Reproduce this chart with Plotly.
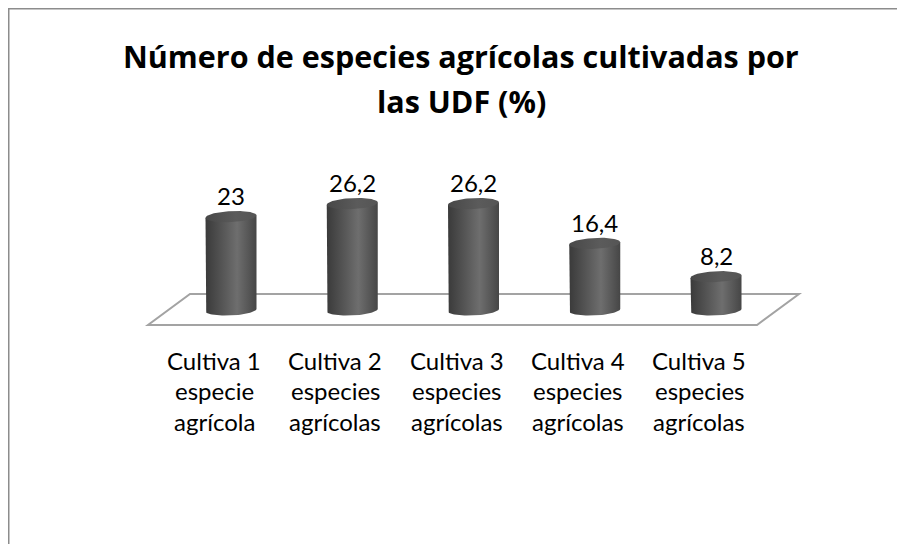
import numpy as np
import plotly.graph_objects as go

# ---- data ----
categories = [
    "Cultiva 1<br>especie<br>agrícola",
    "Cultiva 2<br>especies<br>agrícolas",
    "Cultiva 3<br>especies<br>agrícolas",
    "Cultiva 4<br>especies<br>agrícolas",
    "Cultiva 5<br>especies<br>agrícolas",
]
values = [23, 26.2, 26.2, 16.4, 8.2]
title_lines = ["Número de especies agrícolas cultivadas por", "las UDF (%)"]

# ---- geometry (pixel <-> data helpers) ----
OFF = 8                      # page body margin of the html page
W, H = 905 - OFF, 544 - OFF  # figure size
X0PX, XSTEP = 231.0 - OFF, 121.25       # pixel of category 0, pixels per category
Y0PX, YSTEP = 310.0 - OFF, 4.06         # pixel of value 0, pixels per unit


def px2x(px):
    return (px - OFF - X0PX) / XSTEP


def py2y(py):
    return (Y0PX - (py - OFF)) / YSTEP


FONT = "Lato, 'Open Sans', sans-serif"
TFONT = "'Open Sans', Lato, sans-serif"
half_w = 25.5 / XSTEP
ell_b = 5.5 / YSTEP
tilt = 1.2 / YSTEP

body_scale = [[0, "#3a3a3a"], [0.35, "#575757"], [0.62, "#6e6e6e"], [1, "#464646"]]
top_scale = [[0, "#484848"], [0.6, "#5b5b5b"], [1, "#555555"]]

fig = go.Figure()

for i, v in enumerate(values):
    c = i
    t_low = np.linspace(np.pi, 2 * np.pi, 40)
    bx = [c - half_w] + list(c + half_w * np.cos(t_low)) + [c + half_w, c - half_w]
    by = [v - tilt] + list(ell_b * np.sin(t_low) + tilt * np.cos(t_low)) + [v + tilt, v - tilt]
    fig.add_trace(go.Scatter(
        x=bx, y=by, mode="lines", fill="toself", line=dict(width=0),
        fillgradient=dict(type="horizontal", colorscale=body_scale),
        hoverinfo="skip", showlegend=False,
    ))
    t = np.linspace(0, 2 * np.pi, 80)
    tx = c + half_w * np.cos(t)
    ty = v + ell_b * np.sin(t) + tilt * np.cos(t)
    fig.add_trace(go.Scatter(
        x=tx, y=ty, mode="lines", fill="toself", line=dict(width=0),
        fillgradient=dict(type="horizontal", colorscale=top_scale),
        hoverinfo="skip", showlegend=False,
    ))

annotations = []
# value labels
for i, v in enumerate(values):
    annotations.append(dict(
        x=i, y=v, xref="x", yref="y", text=f"{v:g}".replace(".", ","),
        showarrow=False, yanchor="middle", xanchor="center", yshift=21,
        font=dict(family=FONT, size=24, color="#000000"),
    ))
# category labels (line by line), placed along the front edge of the floor
for i, cat in enumerate(categories):
    for j, line in enumerate(cat.split("<br>")):
        annotations.append(dict(
            x=i, y=1 - (360 + 30.5 * j - OFF) / H, xref="x", yref="paper", text=line,
            showarrow=False, yanchor="middle", xanchor="center", xshift=-17,
            font=dict(family=FONT, size=24, color="#000000"),
        ))
# title
for j, line in enumerate(title_lines):
    annotations.append(dict(
        x=(461 - OFF) / W, y=1 - (56 + 45 * j - OFF) / H, xref="paper", yref="paper",
        text=f"<b>{line}</b>", showarrow=False, yanchor="middle", xanchor="center",
        font=dict(family=TFONT, size=30.5, color="#000000"),
    ))

shapes = [
    # floor
    dict(type="path", xref="x", yref="y",
         path=(f"M {px2x(190)},{py2y(294)} L {px2x(799)},{py2y(294)} "
               f"L {px2x(757)},{py2y(325)} L {px2x(148)},{py2y(325)} Z"),
         line=dict(color="#a3a3a3", width=2), layer="below"),
    # outer chart border
    dict(type="rect", xref="paper", yref="paper",
         x0=0.5 / W, x1=1.05, y0=-0.05, y1=1 - 0.5 / H,
         line=dict(color="#8c8c8c", width=2), layer="below"),
]

fig.update_layout(
    width=W, height=H,
    margin=dict(l=0, r=0, t=0, b=0),
    paper_bgcolor="#ffffff", plot_bgcolor="#ffffff",
    xaxis=dict(range=[px2x(OFF), px2x(OFF + W)], visible=False, fixedrange=True),
    yaxis=dict(range=[py2y(OFF + H), py2y(OFF)], visible=False, fixedrange=True),
    annotations=annotations, shapes=shapes, showlegend=False,
)

fig.write_html("out.html")
